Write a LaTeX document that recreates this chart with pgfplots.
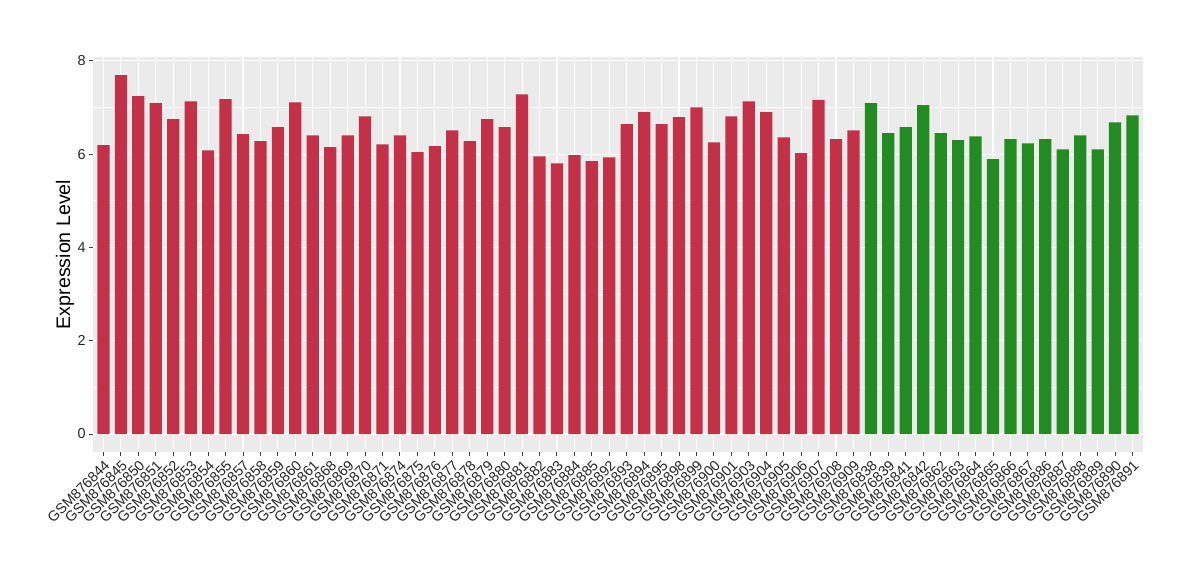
\documentclass[border=0pt]{standalone}
\usepackage{pgfplots}
\pgfplotsset{compat=1.18}
\usepackage{fontspec}
\setmainfont{Liberation Sans}
\definecolor{barred}{RGB}{195,49,73}
\definecolor{bargreen}{RGB}{34,139,34}
\definecolor{panel}{RGB}{235,235,235}
\begin{document}
\begin{tikzpicture}
\path[use as bounding box] (0,0) rectangle (600pt,290pt);
\begin{axis}[
  at={(46.5pt,64pt)}, anchor=south west,
  scale only axis, width=525pt, height=197.5pt,
  xmin=-0.6, xmax=59.6, ymin=-0.385, ymax=8.08,
  axis background/.style={fill=panel},
  axis x line*=bottom, axis y line*=left,
  axis line style={draw=none},
  tick align=outside,
  major tick length=2pt, minor tick length=0pt,
  tick style={black!75, line width=0.5pt},
  xtick={0,...,59},
  ytick={0,2,4,6,8}, minor ytick={1,3,5,7},
  grid=both,
  major grid style={white, line width=0.55pt},
  minor grid style={white, line width=0.3pt},
  ticklabel style={font=\fontsize{7.2}{8}\selectfont, text=black!85},
  /pgf/number format/assume math mode=true,
  xticklabel style={rotate=45, anchor=north east, inner sep=1pt},
  yticklabel style={inner sep=1.5pt},
  xticklabels={GSM876844,GSM876845,GSM876850,GSM876851,GSM876852,GSM876853,GSM876854,GSM876855,GSM876857,GSM876858,GSM876859,GSM876860,GSM876861,GSM876868,GSM876869,GSM876870,GSM876871,GSM876874,GSM876875,GSM876876,GSM876877,GSM876878,GSM876879,GSM876880,GSM876881,GSM876882,GSM876883,GSM876884,GSM876885,GSM876892,GSM876893,GSM876894,GSM876895,GSM876898,GSM876899,GSM876900,GSM876901,GSM876903,GSM876904,GSM876905,GSM876906,GSM876907,GSM876908,GSM876909,GSM876838,GSM876839,GSM876841,GSM876842,GSM876862,GSM876863,GSM876864,GSM876865,GSM876866,GSM876867,GSM876886,GSM876887,GSM876888,GSM876889,GSM876890,GSM876891},
  ylabel={Expression Level},
  ylabel style={font=\fontsize{9.8}{11}\selectfont, at={(axis description cs:-0.0267,0.5)}, anchor=center},
]
\addplot[ybar, bar width=0.7, bar shift=0pt, fill=barred, draw=none] coordinates {
(0,6.19) (1,7.69) (2,7.24) (3,7.09) (4,6.75) (5,7.13) (6,6.08) (7,7.18) (8,6.43) (9,6.28)
(10,6.58) (11,7.11) (12,6.40) (13,6.15) (14,6.40) (15,6.81) (16,6.21) (17,6.40) (18,6.04) (19,6.17)
(20,6.51) (21,6.28) (22,6.75) (23,6.58) (24,7.28) (25,5.95) (26,5.80) (27,5.98) (28,5.85) (29,5.93)
(30,6.64) (31,6.90) (32,6.64) (33,6.79) (34,7.00) (35,6.25) (36,6.81) (37,7.13) (38,6.90) (39,6.36)
(40,6.02) (41,7.16) (42,6.32) (43,6.51)
};
\addplot[ybar, bar width=0.7, bar shift=0pt, fill=bargreen, draw=none] coordinates {
(44,7.09) (45,6.45) (46,6.58) (47,7.05) (48,6.45) (49,6.30) (50,6.38) (51,5.89) (52,6.32) (53,6.23)
(54,6.32) (55,6.10) (56,6.40) (57,6.10) (58,6.68) (59,6.83)
};
\end{axis}
\end{tikzpicture}
\end{document}
